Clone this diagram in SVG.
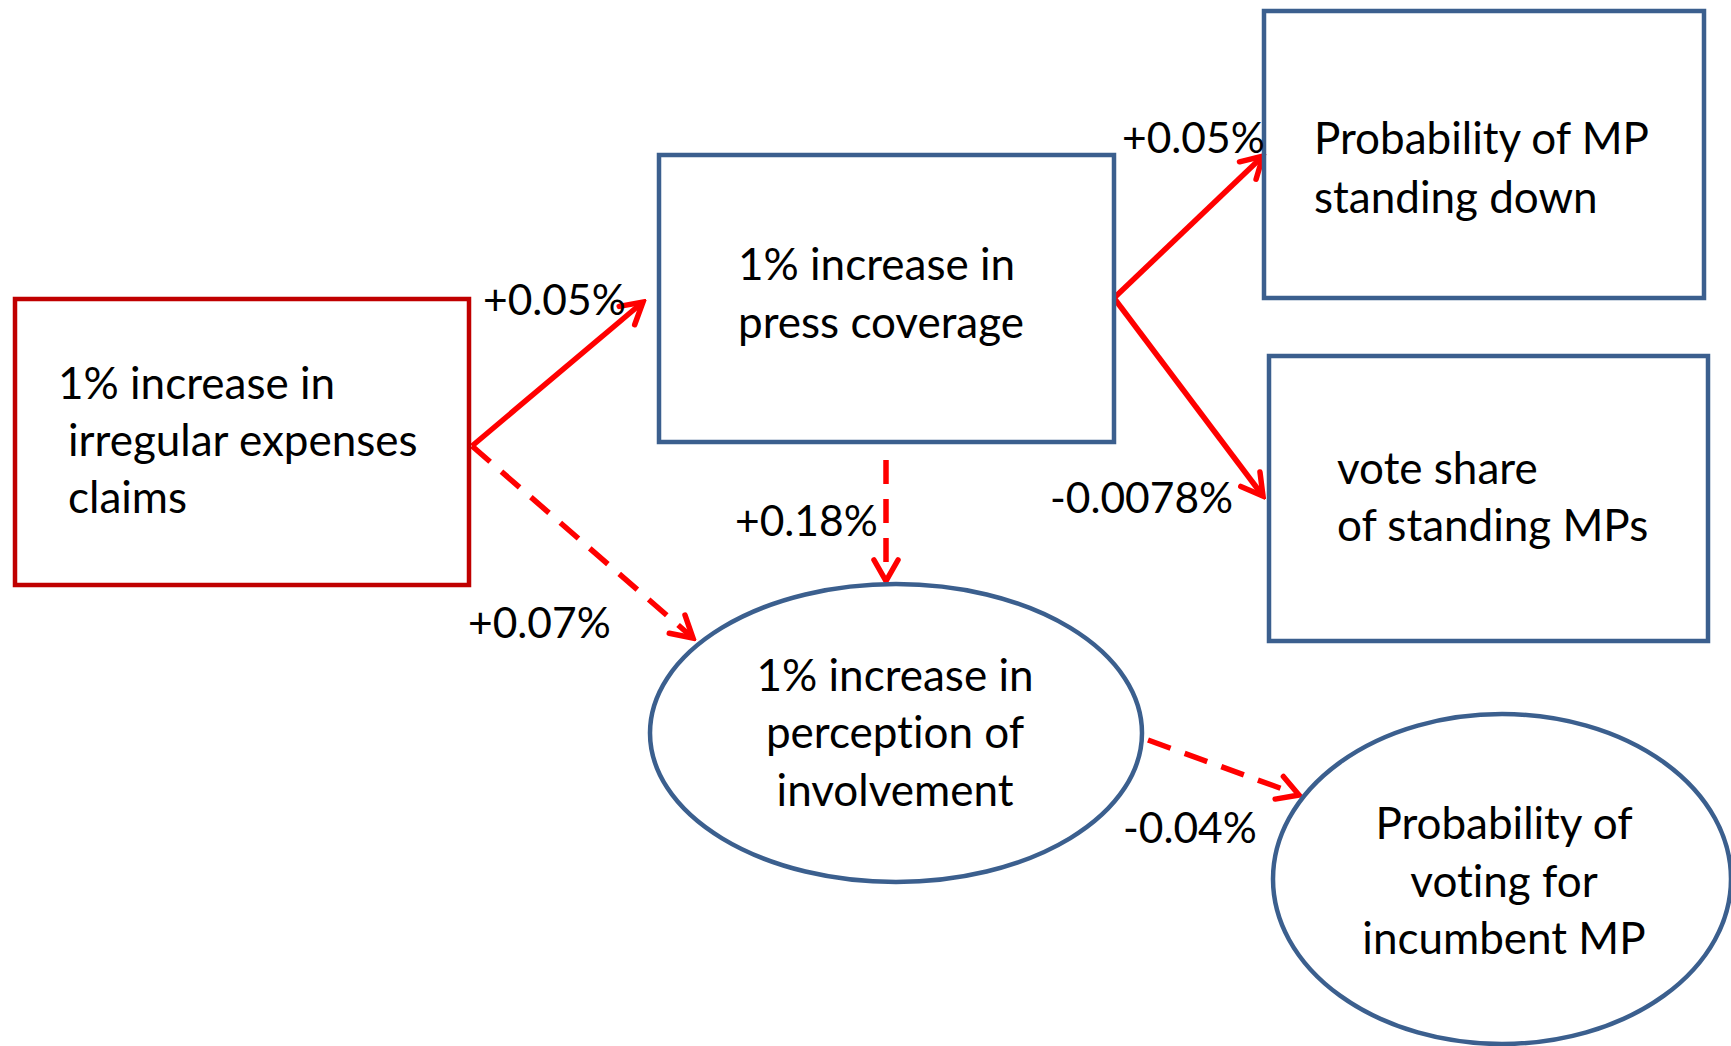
<svg xmlns="http://www.w3.org/2000/svg" width="1731" height="1046" viewBox="0 0 1731 1046">
<style>
.box{fill:none;stroke:#3B5F8E;stroke-width:4.5}
.redbox{fill:none;stroke:#C00000;stroke-width:4.5}
.t{font-family:Lato,"Liberation Sans",sans-serif;font-size:44px;fill:#000;font-variant-ligatures:none}
.lbl{font-size:42.5px}
.c{text-anchor:middle}
.con{stroke:#FF0000;stroke-width:5.5;fill:none}
.dash{stroke-dasharray:24 15}
</style>
<defs>
<marker id="ah" markerUnits="userSpaceOnUse" viewBox="-26 -16 30 32" markerWidth="30" markerHeight="32" refX="0" refY="0" orient="auto">
<path d="M-21,-12 L0,0 L-21,12" fill="none" stroke="#FF0000" stroke-width="5.5" stroke-dasharray="none" stroke-linejoin="miter" stroke-linecap="round"/>
</marker>
</defs>
<rect width="1731" height="1046" fill="#fff"/>
<g id="connectors">
<line class="con" x1="472" y1="446" x2="643" y2="302" marker-end="url(#ah)"/>
<line class="con dash" x1="472" y1="446" x2="693" y2="638" marker-end="url(#ah)"/>
<line class="con" x1="1114" y1="298" x2="1263" y2="156" marker-end="url(#ah)"/>
<line class="con" x1="1114" y1="298" x2="1263" y2="496" marker-end="url(#ah)"/>
<line class="con dash" x1="886" y1="460" x2="886" y2="581" marker-end="url(#ah)"/>
<line class="con dash" x1="1148" y1="740" x2="1299" y2="795" marker-end="url(#ah)"/>
</g>
<g id="irregular">
<rect class="redbox" x="15" y="299" width="454" height="286"/>
<text class="t" x="58" y="399">1% increase in</text>
<text class="t" x="68" y="456">irregular expenses</text>
<text class="t" x="68" y="513">claims</text>
</g>
<g id="press">
<rect class="box" x="659" y="155" width="455" height="287"/>
<text class="t" x="738" y="280">1% increase in</text>
<text class="t" x="738" y="338">press coverage</text>
</g>
<g id="standdown">
<rect class="box" x="1264" y="11" width="440" height="287"/>
<text class="t" x="1314" y="154">Probability of MP</text>
<text class="t" x="1314" y="213">standing down</text>
</g>
<g id="voteshare">
<rect class="box" x="1269" y="356" width="439" height="285"/>
<text class="t" x="1337" y="484">vote share</text>
<text class="t" x="1337" y="541">of standing MPs</text>
</g>
<g id="perception">
<ellipse class="box" cx="896" cy="733" rx="246" ry="149"/>
<text class="t c" x="895" y="691">1% increase in</text>
<text class="t c" x="895" y="748">perception of</text>
<text class="t c" x="895" y="806">involvement</text>
</g>
<g id="voting">
<ellipse class="box" cx="1502" cy="879" rx="229" ry="165"/>
<text class="t c" x="1504" y="839">Probability of</text>
<text class="t c" x="1504" y="897">voting for</text>
<text class="t c" x="1504" y="954">incumbent MP</text>
</g>
<g id="labels">
<text class="t lbl" x="483" y="315">+0.05%</text>
<text class="t lbl" x="468" y="638">+0.07%</text>
<text class="t lbl" x="735" y="536">+0.18%</text>
<text class="t lbl" x="1122" y="153">+0.05%</text>
<text class="t lbl" x="1050" y="513">-0.0078%</text>
<text class="t lbl" x="1123" y="843">-0.04%</text>
</g>
</svg>
